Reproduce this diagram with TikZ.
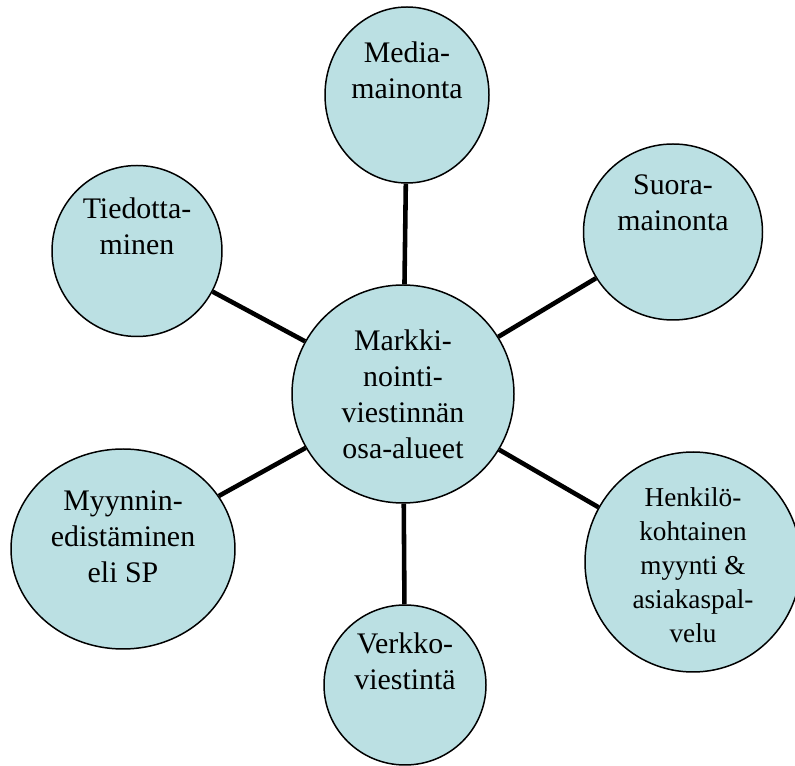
\documentclass[tikz,border=0pt]{standalone}
\usepackage{fontspec}
\setmainfont{Liberation Serif}
\usetikzlibrary{shapes.geometric}
\definecolor{cbubble}{HTML}{BBE0E3}
\tikzset{
  every picture/.style={x=0.02cm, y=-0.02cm},
  bubble/.style={ellipse, draw=black, fill=cbubble, line width=0.85pt, inner sep=0pt},
  txt/.style={font=\fontsize{17}{20.5}\selectfont, align=center, inner sep=0pt},
  smalltxt/.style={font=\fontsize{15.5}{19.4}\selectfont, align=center, inner sep=0pt},
  link/.style={draw=black, line width=2.6pt},
}

\begin{document}
\begin{tikzpicture}
  \clip (0,0) rectangle (795,766);
  % centre and the six parts round it
  \node[bubble, minimum width=222*0.02cm, minimum height=218*0.02cm,
        label={[txt]center:{Markki-\\nointi-\\viestinnän\\osa-alueet}}] (core) at (403,394) {};
  \node[bubble, minimum width=164*0.02cm, minimum height=176*0.02cm,
        label={[txt, yshift=0.5cm]center:{Media-\\mainonta}}] (media) at (407,95) {};
  \node[bubble, minimum width=179*0.02cm, minimum height=176*0.02cm,
        label={[txt, yshift=0.58cm]center:{Suora-\\mainonta}}] (suora) at (673,232) {};
  \node[bubble, minimum width=170*0.02cm, minimum height=171*0.02cm,
        label={[txt, yshift=0.5cm]center:{Tiedotta-\\minen}}] (tiedotus) at (137,251) {};
  \node[bubble, minimum width=224*0.02cm, minimum height=200*0.02cm,
        label={[txt, yshift=0.24cm]center:{Myynnin-\\edistäminen\\eli SP}}] (myynti) at (123,549) {};
  \node[bubble, minimum width=216*0.02cm, minimum height=220*0.02cm,
        label={[smalltxt, yshift=-0.06cm]center:{Henkilö-\\kohtainen\\myynti \&\\asiakaspal-\\velu}}] (henkilo) at (693,562) {};
  \node[bubble, minimum width=162*0.02cm, minimum height=160*0.02cm,
        label={[txt, yshift=0.48cm]center:{Verkko-\\viestintä}}] (verkko) at (405,685) {};
  % spokes
  \draw[link] (core) -- (media);
  \draw[link] (core) -- (suora);
  \draw[link] (core) -- (henkilo);
  \draw[link] (core) -- (verkko);
  \draw[link] (core) -- (myynti);
  \draw[link] (core) -- (tiedotus);
\end{tikzpicture}
\end{document}
